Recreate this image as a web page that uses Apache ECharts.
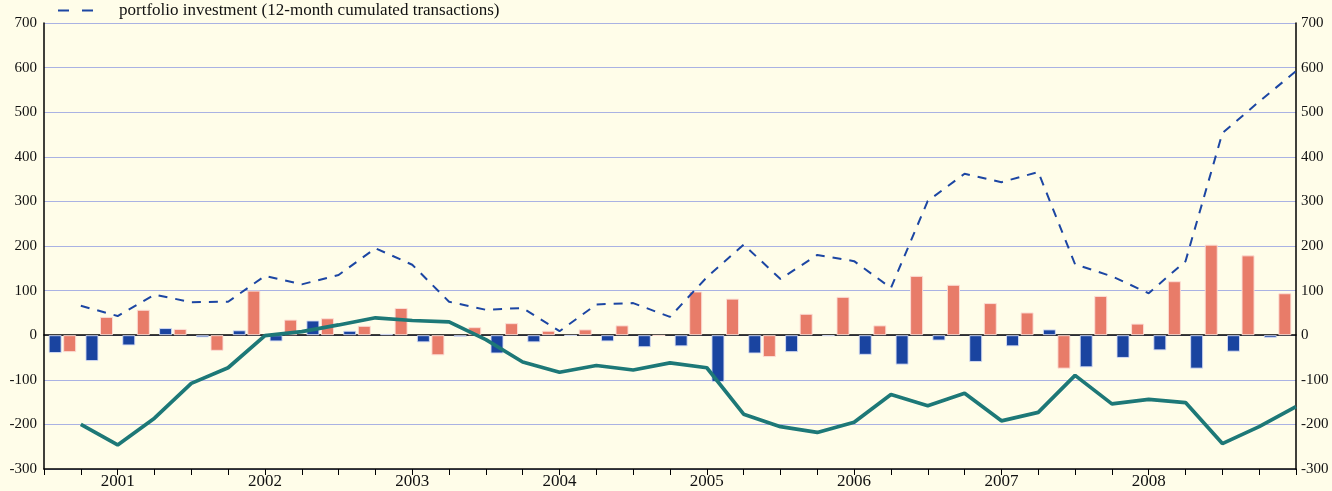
<!DOCTYPE html>
<html>
<head>
<meta charset="utf-8">
<script src="https://cdn.jsdelivr.net/npm/echarts@6/dist/echarts.min.js"></script>
<style>
  html, body { margin: 0; padding: 0; background: #fffde9; }
  #chart { width: 1332px; height: 491px; }
</style>
</head>
<body>
<div id="chart"></div>
<script>
// Quarterly periods shown on the horizontal axis (bars sit inside each quarter,
// lines are plotted at quarter ends)
const quarters = [
  '2001Q1','2001Q2','2001Q3','2001Q4','2002Q1','2002Q2','2002Q3','2002Q4',
  '2003Q1','2003Q2','2003Q3','2003Q4','2004Q1','2004Q2','2004Q3','2004Q4',
  '2005Q1','2005Q2','2005Q3','2005Q4','2006Q1','2006Q2','2006Q3','2006Q4',
  '2007Q1','2007Q2','2007Q3','2007Q4','2008Q1','2008Q2','2008Q3','2008Q4',
  '2009Q1','2009Q2'
];
const yearLabels = ['2001','2002','2003','2004','2005','2006','2007','2008'];
const valueTicks = [-300, -200, -100, 0, 100, 200, 300, 400, 500, 600, 700];

// Quarterly flows (EUR billions)
const equityFlows = [
  -40, -58, -23, 16, -5, 11, -14, 33, 10, 3, -16, -4, -41, -16, -1, -14, -27,
  -25, -105, -41, -38, -2, -44, -66, -12, -60, -25, 13, -72, -51, -34, -75, -37, -6
];
const debtFlows = [
  -38, 41, 57, 14, -35, 100, 35, 38, 21, 61, -45, 18, 27, 10, 13, 22, -1,
  98, 82, -49, 48, 86, 22, 133, 113, 72, 51, -75, 88, 26, 121, 203, 179, 94
];

// 12-month cumulated series, one value per quarter end
const directInvestment = [
  -200, -246, -186, -108, -73, -1, 8, 23, 39, 33, 30, -10, -60, -83, -68, -78, -62,
  -73, -177, -205, -218, -195, -133, -158, -130, -192, -173, -90, -154, -144, -151, -243, -205, -160
];
const portfolioInvestment = [
  66, 43, 91, 74, 75, 133, 114, 135, 195, 158, 75, 57, 61, 9, 69, 72, 41,
  130, 203, 126, 180, 166, 106, 301, 362, 343, 366, 159, 132, 94, 166, 453, 524, 592
];

const portfolioName = 'portfolio investment (12-month cumulated transactions)';

const serif = 'Liberation Serif';
const quarterEnd = (arr) => arr.map((v, i) => [i + 1, v]);

const chart = echarts.init(document.getElementById('chart'), null, { renderer: 'canvas' });

chart.setOption({
  animation: false,
  backgroundColor: '#fffde9',
  textStyle: { fontFamily: serif },
  legend: {
    data: [portfolioName],
    left: 57,
    top: 2,
    padding: 0,
    itemWidth: 35,
    itemHeight: 14,
    itemStyle: { opacity: 0 },
    lineStyle: { type: [11, 13], width: 2, opacity: 1 },
    textStyle: { fontFamily: serif, fontSize: 17, color: '#111', padding: [0, 0, 0, 21] }
  },
  grid: { left: 44, right: 36, top: 23, bottom: 22 },
  xAxis: [
    {
      // band axis for the paired bars; its line marks the zero level
      type: 'category',
      data: quarters,
      position: 'bottom',
      boundaryGap: true,
      axisLine: { show: true, onZero: true, lineStyle: { color: '#000', width: 1.6 } },
      axisTick: { show: false },
      axisLabel: { show: false },
      splitLine: { show: false }
    },
    {
      // quarter-end scale carrying the ticks and the year labels
      type: 'value',
      position: 'bottom',
      min: 0,
      max: quarters.length,
      interval: 1,
      axisLine: { show: true, onZero: false, lineStyle: { color: '#000', width: 1.5 } },
      axisTick: { show: true, length: 6, lineStyle: { color: '#000', width: 1 } },
      axisLabel: {
        fontFamily: serif,
        fontSize: 17,
        color: '#111',
        margin: 4,
        formatter: (v) => {
          const i = (v - 2) / 4;
          return Number.isInteger(i) && i >= 0 && i < yearLabels.length ? yearLabels[i] : '';
        }
      },
      splitLine: { show: false }
    }
  ],
  yAxis: [
    {
      type: 'value',
      position: 'left',
      min: valueTicks[0],
      max: valueTicks[valueTicks.length - 1],
      interval: 100,
      axisLine: { show: true, onZero: false, lineStyle: { color: '#000', width: 1.5 } },
      axisTick: { show: false },
      axisLabel: { fontFamily: serif, fontSize: 15, color: '#111', margin: 7 },
      splitLine: { show: true, lineStyle: { color: '#aab2e3', width: 1 } }
    },
    {
      type: 'value',
      position: 'right',
      min: valueTicks[0],
      max: valueTicks[valueTicks.length - 1],
      interval: 100,
      axisLine: { show: true, onZero: false, lineStyle: { color: '#000', width: 1.5 } },
      axisTick: { show: false },
      axisLabel: { fontFamily: serif, fontSize: 15, color: '#111', margin: 5 },
      splitLine: { show: false }
    }
  ],
  series: [
    {
      name: 'equity',
      type: 'bar',
      xAxisIndex: 0,
      yAxisIndex: 0,
      data: equityFlows,
      barWidth: 13,
      barGap: '12%',
      itemStyle: { color: '#1a44a0', borderColor: 'rgba(215,222,245,0.9)', borderWidth: 1 },
      z: 2
    },
    {
      name: 'debt',
      type: 'bar',
      xAxisIndex: 0,
      yAxisIndex: 0,
      data: debtFlows,
      barWidth: 13,
      barGap: '12%',
      itemStyle: { color: '#e87c69', borderColor: 'rgba(252,222,214,0.95)', borderWidth: 1 },
      z: 2
    },
    {
      name: 'direct investment',
      type: 'line',
      xAxisIndex: 1,
      yAxisIndex: 0,
      data: quarterEnd(directInvestment),
      symbol: 'none',
      lineStyle: { color: '#1d7877', width: 3.7 },
      z: 4
    },
    {
      name: portfolioName,
      type: 'line',
      xAxisIndex: 1,
      yAxisIndex: 0,
      data: quarterEnd(portfolioInvestment),
      symbol: 'none',
      itemStyle: { color: '#1c46a3' },
      lineStyle: { color: '#1c46a3', width: 2, type: [9, 8] },
      z: 5
    }
  ]
});
</script>
</body>
</html>
